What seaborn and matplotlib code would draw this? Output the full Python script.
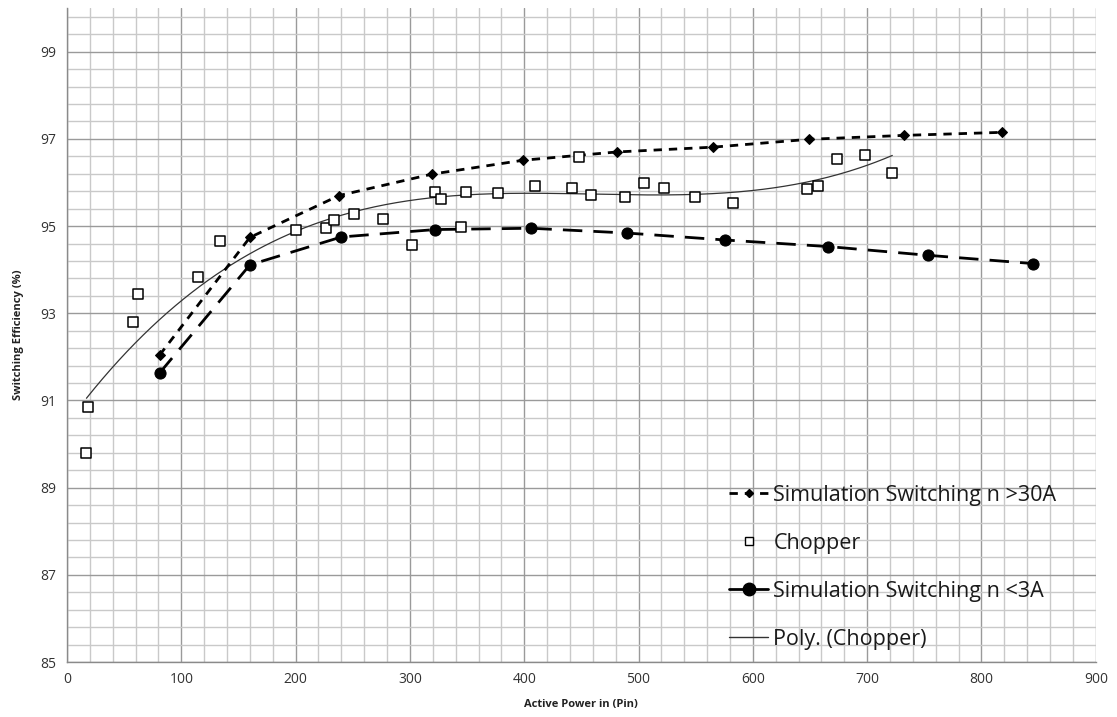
import numpy as np
import pandas as pd
import matplotlib
matplotlib.use("Agg")
import matplotlib.pyplot as plt
from matplotlib.lines import Line2D
from matplotlib.ticker import MultipleLocator
import seaborn as sns

# Simulation switching, n > 30 A
sim_hi_p = [81, 160, 238, 319, 399, 481, 565, 649, 732, 818]
sim_hi_eff = [92.04, 94.74, 95.70, 96.19, 96.51, 96.70, 96.81, 96.99, 97.08, 97.15]

# Simulation switching, n < 3 A
sim_lo_p = [81, 160, 240, 322, 406, 490, 576, 666, 753, 845]
sim_lo_eff = [91.63, 94.11, 94.75, 94.92, 94.95, 94.84, 94.68, 94.53, 94.33, 94.14]

# Chopper measurements
chop_p = [17, 18, 58, 62, 115, 134, 200, 227, 234, 251, 276, 302, 322, 327,
          345, 349, 377, 409, 442, 448, 458, 488, 505, 522, 549, 583, 647,
          657, 674, 698, 722]
chop_eff = [89.79, 90.86, 92.80, 93.45, 93.84, 94.65, 94.90, 94.95, 95.14,
            95.27, 95.16, 94.56, 95.78, 95.61, 94.97, 95.79, 95.76, 95.93,
            95.88, 96.59, 95.71, 95.67, 95.99, 95.88, 95.67, 95.53, 95.86,
            95.93, 96.54, 96.63, 96.22]

x_ticks = [0, 100, 200, 300, 400, 500, 600, 700, 800, 900]
y_ticks = [85, 87, 89, 91, 93, 95, 97, 99]

sns.set_style("white")
plt.rcParams["font.family"] = ["Open Sans", "DejaVu Sans"]

fig = plt.figure(figsize=(11.17, 7.17), dpi=100)
ax = fig.add_axes([0.060, 0.0767, 0.921, 0.912])

# Grid: dark lines at labelled ticks, light minor lines
ax.set_xlim(0, 900)
ax.set_ylim(85, 100)
ax.xaxis.set_minor_locator(MultipleLocator(20))
ax.set_yticks(y_ticks)
ax.set_xticks(x_ticks)
ax.set_yticks(np.arange(85, 100.01, 0.4), minor=True)
ax.grid(which="minor", color="#c9c9c9", linewidth=1.0)
ax.grid(which="major", color="#9a9a9a", linewidth=1.0)
ax.set_axisbelow(True)
for s in ["top", "right"]:
    ax.spines[s].set_visible(False)
for s in ["left", "bottom"]:
    ax.spines[s].set_color("#8a8a8a")
    ax.spines[s].set_linewidth(1.0)
ax.tick_params(which="major", direction="out", length=4, width=1,
               color="#8a8a8a", labelsize=10, labelcolor="#333333")
ax.tick_params(which="minor", length=0)

# Cubic trendline of chopper data
coef = np.polyfit(chop_p, chop_eff, 3)
xs = np.linspace(min(chop_p), max(chop_p), 300)
trend = pd.DataFrame({"p": xs, "eff": np.polyval(coef, xs)})
sns.lineplot(data=trend, x="p", y="eff", ax=ax, color="#333333",
             linewidth=0.9, zorder=3)

df_hi = pd.DataFrame({"p": sim_hi_p, "eff": sim_hi_eff})
sns.lineplot(data=df_hi, x="p", y="eff", ax=ax, color="black", linewidth=2,
             marker="D", markersize=5.5, markeredgecolor="black",
             zorder=4, linestyle=(0, (3, 2.5)))

df_lo = pd.DataFrame({"p": sim_lo_p, "eff": sim_lo_eff})
sns.lineplot(data=df_lo, x="p", y="eff", ax=ax, color="black", linewidth=2,
             marker="o", markersize=8, markeredgecolor="black",
             zorder=4, linestyle=(0, (7, 4)))

df_ch = pd.DataFrame({"p": chop_p, "eff": chop_eff})
sns.scatterplot(data=df_ch, x="p", y="eff", ax=ax, marker="s", s=48,
                facecolor="white", edgecolor="black", linewidth=1.1, zorder=5)

ax.set_xlabel("Active Power in (Pin)", fontsize=8, fontweight="bold",
              color="#222222", labelpad=8)
ax.set_ylabel("Switching Efficiency (%)", fontsize=8, fontweight="bold",
              color="#222222", labelpad=12)

handles = [
    Line2D([], [], color="black", linewidth=2, linestyle=(0, (3, 2.5)),
           marker="D", markersize=4),
    Line2D([], [], color="none", marker="s", markersize=6,
           markerfacecolor="white", markeredgecolor="black"),
    Line2D([], [], color="black", linewidth=2, marker="o", markersize=9),
    Line2D([], [], color="#333333", linewidth=1.0),
]
labels = ["Simulation Switching n >30A", "Chopper",
          "Simulation Switching n <3A", "Poly. (Chopper)"]
leg = ax.legend(handles, labels, loc="lower left",
                bbox_to_anchor=(0.629, -0.004), frameon=False, fontsize=15.5,
                handlelength=1.8, handletextpad=0.25, labelspacing=1.25,
                borderaxespad=0.3)
for t in leg.get_texts():
    t.set_color("#1a1a1a")

fig.savefig("out.png", dpi=100)
